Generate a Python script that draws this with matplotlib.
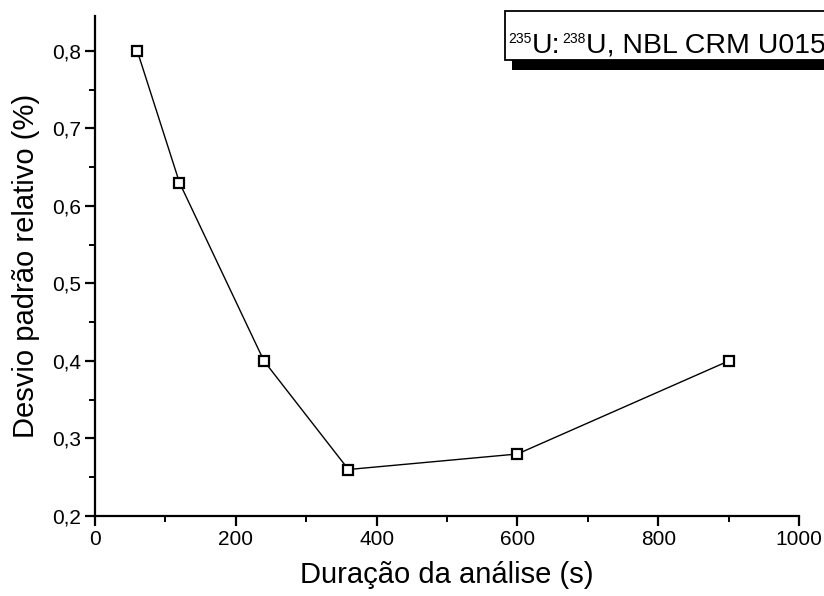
import matplotlib
matplotlib.use('Agg')
import matplotlib.pyplot as plt
from matplotlib.patches import Rectangle
from matplotlib.ticker import MultipleLocator, FuncFormatter

plt.rcParams['font.family'] = ['Liberation Sans', 'DejaVu Sans']

# data
duracao = [60, 120, 240, 360, 600, 900]
desvio = [0.80, 0.63, 0.40, 0.26, 0.28, 0.40]
# caption pieces: (text, is superscript)
legenda = [('235', True), ('U:', False), ('238', True), ('U, NBL CRM U015A', False)]

W, H = 824, 596
fig = plt.figure(figsize=(W / 100, H / 100), dpi=100)
ax = fig.add_axes([0.1153, 0.1342, 0.8544, 0.8390])

ax.plot(duracao, desvio, color='black', lw=1.0, marker='s', ms=7.5,
        mfc='white', mec='black', mew=1.6)

ax.set_xlim(0, 1000)
ax.set_ylim(0.2, 0.845)

ax.spines['top'].set_visible(False)
ax.spines['right'].set_visible(False)
for s in ('left', 'bottom'):
    ax.spines[s].set_linewidth(1.6)

ax.xaxis.set_major_locator(MultipleLocator(200))
ax.xaxis.set_minor_locator(MultipleLocator(100))
ax.yaxis.set_major_locator(MultipleLocator(0.1))
ax.yaxis.set_minor_locator(MultipleLocator(0.05))
ax.yaxis.set_major_formatter(FuncFormatter(lambda v, p: f'{v:.1f}'.replace('.', ',')))

ax.tick_params(which='major', direction='out', length=7, width=1.6,
               labelsize=15, pad=3)
ax.tick_params(which='minor', direction='out', length=4, width=1.4)

ax.set_xlabel('Duração da análise (s)', fontsize=21, labelpad=9)
ax.set_ylabel('Desvio padrão relativo (%)', fontsize=21, labelpad=9)

# caption box with a solid drop shadow, running past the figure edge
fig.patches.append(Rectangle((0.6214, 0.8826), 0.45, 0.0822, transform=fig.transFigure,
                             fc='black', ec='black', lw=0, zorder=1))
fig.patches.append(Rectangle((0.6129, 0.8993), 0.45, 0.0822, transform=fig.transFigure,
                             fc='white', ec='black', lw=1.3, zorder=2))

renderer = fig.canvas.get_renderer()
x = 0.6165
for txt, sup in legenda:
    size = 10 if sup else 20.5
    y = 0.928 if sup else 0.9111
    t = fig.text(x, y, txt, fontsize=size, ha='left', va='baseline', zorder=3)
    x += t.get_window_extent(renderer).width / W + (0.6 / W if sup else 1.5 / W)

fig.savefig('out.png', dpi=100)
